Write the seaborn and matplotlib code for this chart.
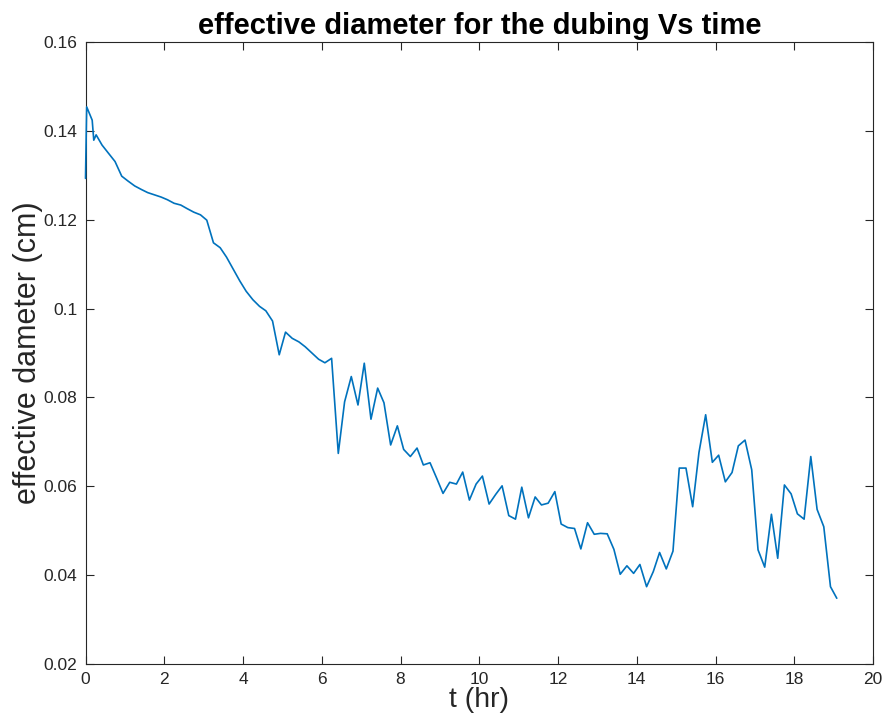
import matplotlib
matplotlib.use("Agg")
import matplotlib.pyplot as plt
import seaborn as sns
import pandas as pd

t_hr = [0.0, 0.03, 0.17, 0.21, 0.27, 0.42, 0.58, 0.75, 0.92, 1.08, 1.25, 1.42, 1.58, 1.75,
        1.92, 2.08, 2.25, 2.42, 2.58, 2.75, 2.92, 3.08, 3.25, 3.42, 3.58, 3.75, 3.92, 4.08,
        4.25, 4.42, 4.58, 4.75, 4.92, 5.08, 5.25, 5.42, 5.58, 5.75, 5.92, 6.08, 6.25, 6.42,
        6.58, 6.75, 6.92, 7.08, 7.25, 7.42, 7.58, 7.75, 7.92, 8.08, 8.25, 8.42, 8.58, 8.75,
        8.92, 9.08, 9.25, 9.42, 9.58, 9.75, 9.92, 10.08, 10.25, 10.42, 10.58, 10.75, 10.92,
        11.08, 11.25, 11.42, 11.58, 11.75, 11.92, 12.08, 12.25, 12.42, 12.58, 12.75, 12.92,
        13.08, 13.25, 13.42, 13.58, 13.75, 13.92, 14.08, 14.25, 14.42, 14.58, 14.75, 14.92,
        15.08, 15.25, 15.42, 15.58, 15.75, 15.92, 16.08, 16.25, 16.42, 16.58, 16.75, 16.92,
        17.08, 17.25, 17.42, 17.58, 17.75, 17.92, 18.08, 18.25, 18.42, 18.58, 18.75, 18.92,
        19.08]
diameter_cm = [0.1293, 0.1454, 0.1424, 0.1379, 0.1391, 0.1368, 0.1350, 0.1331, 0.1298, 0.1287,
               0.1276, 0.1268, 0.1261, 0.1256, 0.1251, 0.1245, 0.1237, 0.1233, 0.1225, 0.1217,
               0.1211, 0.1199, 0.1148, 0.1137, 0.1116, 0.1089, 0.1062, 0.1039, 0.1020, 0.1005,
               0.0995, 0.0972, 0.0896, 0.0947, 0.0933, 0.0925, 0.0914, 0.0900, 0.0886, 0.0878,
               0.0888, 0.0674, 0.0790, 0.0847, 0.0783, 0.0877, 0.0751, 0.0821, 0.0788, 0.0693,
               0.0736, 0.0683, 0.0667, 0.0686, 0.0648, 0.0653, 0.0618, 0.0584, 0.0609, 0.0605,
               0.0632, 0.0569, 0.0605, 0.0623, 0.0560, 0.0582, 0.0601, 0.0534, 0.0526, 0.0598,
               0.0529, 0.0576, 0.0558, 0.0562, 0.0588, 0.0515, 0.0507, 0.0505, 0.0459, 0.0518,
               0.0492, 0.0494, 0.0493, 0.0458, 0.0402, 0.0421, 0.0404, 0.0424, 0.0374, 0.0408,
               0.0451, 0.0414, 0.0454, 0.0641, 0.0641, 0.0554, 0.0676, 0.0761, 0.0654, 0.0670,
               0.0610, 0.0631, 0.0691, 0.0704, 0.0637, 0.0457, 0.0418, 0.0537, 0.0438, 0.0603,
               0.0583, 0.0538, 0.0526, 0.0667, 0.0548, 0.0509, 0.0374, 0.0348]

x_ticks = [0, 2, 4, 6, 8, 10, 12, 14, 16, 18, 20]
y_ticks = [0.02, 0.04, 0.06, 0.08, 0.1, 0.12, 0.14, 0.16]
y_tick_labels = ["0.02", "0.04", "0.06", "0.08", "0.1", "0.12", "0.14", "0.16"]

sns.set_style("white")
plt.rcParams['font.family'] = ['Liberation Sans', 'DejaVu Sans']

df = pd.DataFrame({"t": t_hr, "d": diameter_cm})

fig = plt.figure(figsize=(8.84, 7.22), dpi=100)
ax = fig.add_axes([85.5 / 884, 1 - 664 / 722, (873 - 85.5) / 884, (664 - 42) / 722])
sns.lineplot(data=df, x="t", y="d", ax=ax, color="#0072BD", linewidth=1.2, sort=False,
             zorder=3, clip_on=False)

ax.set_xlim(0, 20)
ax.set_ylim(0.02, 0.16)
ax.set_xticks(x_ticks)
ax.set_xticklabels([str(v) for v in x_ticks])
ax.set_yticks(y_ticks)
ax.set_yticklabels(y_tick_labels)
ax.tick_params(direction="in", length=5.5, width=0.8, colors="#262626", labelsize=12.5,
               top=True, right=True, bottom=True, left=True, labelcolor="#262626", pad=6)
for s in ax.spines.values():
    s.set_visible(True)
    s.set_color("#262626")
    s.set_linewidth(0.8)

ax.set_xlabel("t (hr)", fontsize=20.5, color="#262626", labelpad=0)
ax.set_ylabel("effective dameter (cm)", fontsize=22, color="#262626", labelpad=0)
ax.set_title("effective diameter for the dubing Vs time", fontsize=21, fontweight="bold",
             color="black", pad=6)

fig.savefig("out.png", dpi=100)
